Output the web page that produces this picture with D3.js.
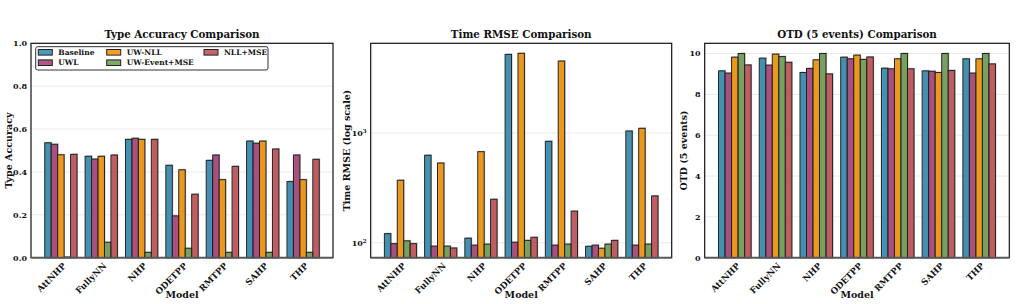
<!DOCTYPE html>
<html>
<head>
<meta charset="utf-8">
<script src="https://cdn.jsdelivr.net/npm/d3@7/dist/d3.min.js"></script>
<style>
  body { margin: 0; background: #fff; }
  svg text { font-family: "DejaVu Serif", serif; font-weight: bold; fill: #111; }
</style>
</head>
<body>
<div id="chart"></div>
<script>
// categories / series
var models = ["AttNHP", "FullyNN", "NHP", "ODETPP", "RMTPP", "SAHP", "THP"];
var methods = ["Baseline", "UWL", "UW-NLL", "UW-Event+MSE", "NLL+MSE"];
var colors = ["#2E86AB", "#A23B72", "#F18F01", "#6A994E", "#BC4B51"];

// values per method, in model order
var typeAcc = [
  [0.536, 0.473, 0.552, 0.431, 0.454, 0.544, 0.355],
  [0.529, 0.460, 0.557, 0.195, 0.479, 0.534, 0.479],
  [0.480, 0.473, 0.552, 0.410, 0.364, 0.544, 0.364],
  [0.003, 0.072, 0.025, 0.044, 0.025, 0.025, 0.025],
  [0.482, 0.479, 0.552, 0.296, 0.426, 0.507, 0.459]
];
var timeRmse = [
  [121, 627, 110, 5210, 840, 92.7, 1043],
  [98, 93, 95, 101, 95, 95, 95],
  [371, 533, 676, 5330, 4530, 89, 1104],
  [104, 93, 97, 105, 97, 97, 97],
  [98, 89.5, 249, 112, 194, 105, 267]
];
var otd = [
  [9.15, 9.77, 9.07, 9.82, 9.28, 9.15, 9.74],
  [9.04, 9.43, 9.27, 9.74, 9.25, 9.13, 9.04],
  [9.82, 9.97, 9.69, 9.92, 9.74, 9.07, 9.74],
  [10.0, 9.85, 10.0, 9.71, 10.0, 10.0, 10.0],
  [9.44, 9.57, 9.00, 9.83, 9.25, 9.17, 9.49]
];

var accTicks = [0, 0.2, 0.4, 0.6, 0.8, 1.0];
var rmseTicks = [100, 1000];
var otdTicks = [0, 2, 4, 6, 8, 10];

var W = 1016, H = 304;
var plotTop = 43.3, plotBottom = 257.7;

var svg = d3.select("#chart").append("svg")
  .attr("width", W).attr("height", H);

function drawPanel(opt) {
  var g = svg.append("g");
  var x0 = opt.left, x1 = opt.right;

  // bar groups centred on 0..6, width 0.8, matplotlib-like margins
  var x = d3.scaleLinear().domain([-0.74, models.length - 1 + 0.74]).range([x0, x1]);
  var bw = 0.16;
  var y = opt.y;

  // grid
  g.selectAll(".grid").data(opt.ticks).enter().append("line")
    .attr("x1", x0).attr("x2", x1)
    .attr("y1", function(d) { return y(d); })
    .attr("y2", function(d) { return y(d); })
    .attr("stroke", "#e5e5e5").attr("stroke-width", 0.8);

  // bars
  methods.forEach(function(m, mi) {
    var vals = opt.data[mi];
    var bars = g.append("g");
    bars.selectAll(".shadow").data(vals).enter().append("rect")
      .attr("x", function(d, i) { return x(i - 0.4 + mi * bw) + 1; })
      .attr("y", function(d) { return y(d) - 1; })
      .attr("width", x(bw) - x(0))
      .attr("height", function(d) { return Math.max(0, plotBottom - y(d)); })
      .attr("fill", "#888").attr("opacity", 0.45);
    bars.selectAll(".bar").data(vals).enter().append("rect")
      .attr("x", function(d, i) { return x(i - 0.4 + mi * bw); })
      .attr("y", function(d) { return y(d); })
      .attr("width", x(bw) - x(0))
      .attr("height", function(d) { return Math.max(0, plotBottom - y(d)); })
      .attr("fill", colors[mi]).attr("fill-opacity", 0.85)
      .attr("stroke", "#222").attr("stroke-width", 1);
  });

  // frame
  g.append("rect").attr("x", x0).attr("y", plotTop)
    .attr("width", x1 - x0).attr("height", plotBottom - plotTop)
    .attr("fill", "none").attr("stroke", "#111").attr("stroke-width", 1.2);
  g.append("line").attr("x1", x0).attr("x2", x1)
    .attr("y1", plotBottom).attr("y2", plotBottom)
    .attr("stroke", "#555").attr("stroke-width", 1.8);

  // y tick labels
  var yl = g.selectAll(".ytick").data(opt.ticks).enter().append("text")
    .attr("x", x0 - 4)
    .attr("y", function(d) { return y(d); })
    .attr("dy", "0.35em")
    .attr("text-anchor", "end")
    .attr("font-size", "8px");
  if (opt.log) {
    yl.text("10");
    yl.append("tspan").attr("dy", "-0.45em").attr("font-size", "5.5px")
      .text(function(d) { return String(Math.round(Math.log10(d))); });
  } else {
    yl.text(opt.fmt);
  }

  // x tick labels
  g.selectAll(".xtick").data(models).enter().append("text")
    .attr("transform", function(d, i) {
      return "translate(" + (x(i) + 1.5) + "," + (plotBottom + 4.5) + ") rotate(-45)";
    })
    .attr("text-anchor", "end")
    .attr("dy", "0.7em")
    .attr("font-size", "8.6px")
    .text(function(d) { return d; });

  // titles
  g.append("text").attr("x", (x0 + x1) / 2).attr("y", 37.5)
    .attr("text-anchor", "middle").attr("font-size", "10.3px")
    .text(opt.title);
  g.append("text").attr("x", (x0 + x1) / 2).attr("y", 298)
    .attr("text-anchor", "middle").attr("font-size", "9.5px")
    .text("Model");
  g.append("text")
    .attr("transform", "translate(" + opt.ylabX + "," + ((plotTop + plotBottom) / 2) + ") rotate(-90)")
    .attr("text-anchor", "middle").attr("font-size", "9.5px")
    .text(opt.ylabel);
  return g;
}

var p1 = drawPanel({
  left: 31, right: 333, data: typeAcc, ticks: accTicks,
  y: d3.scaleLinear().domain([0, 1]).range([plotBottom, plotTop]),
  fmt: d3.format(".1f"), title: "Type Accuracy Comparison",
  ylabel: "Type Accuracy", ylabX: 12
});

drawPanel({
  left: 370.7, right: 671.7, data: timeRmse, ticks: rmseTicks, log: true,
  y: d3.scaleLog().domain([73, 6577]).range([plotBottom, plotTop]),
  title: "Time RMSE Comparison",
  ylabel: "Time RMSE (log scale)", ylabX: 350
});

drawPanel({
  left: 704.7, right: 1009.3, data: otd, ticks: otdTicks,
  y: d3.scaleLinear().domain([0, 10.5]).range([plotBottom, plotTop]),
  fmt: d3.format("d"), title: "OTD (5 events) Comparison",
  ylabel: "OTD (5 events)", ylabX: 687
});

// legend in first panel
var leg = p1.append("g");
leg.append("rect").attr("x", 35.7).attr("y", 46.7).attr("width", 232.3).attr("height", 23.3)
  .attr("rx", 2).attr("fill", "#fff").attr("fill-opacity", 0.9)
  .attr("stroke", "#333").attr("stroke-width", 1);
var legX = [38.3, 106.7, 204];
var legY = [52.3, 62.7];
methods.forEach(function(m, i) {
  var cx = legX[Math.floor(i / 2)], cy = legY[i % 2];
  leg.append("rect").attr("x", cx).attr("y", cy - 2.8).attr("width", 14).attr("height", 5.6)
    .attr("fill", colors[i]).attr("fill-opacity", 0.85)
    .attr("stroke", "#222").attr("stroke-width", 1);
  leg.append("text").attr("x", cx + 20).attr("y", cy).attr("dy", "0.35em")
    .attr("font-size", "7.5px").text(m);
});
</script>
</body>
</html>
